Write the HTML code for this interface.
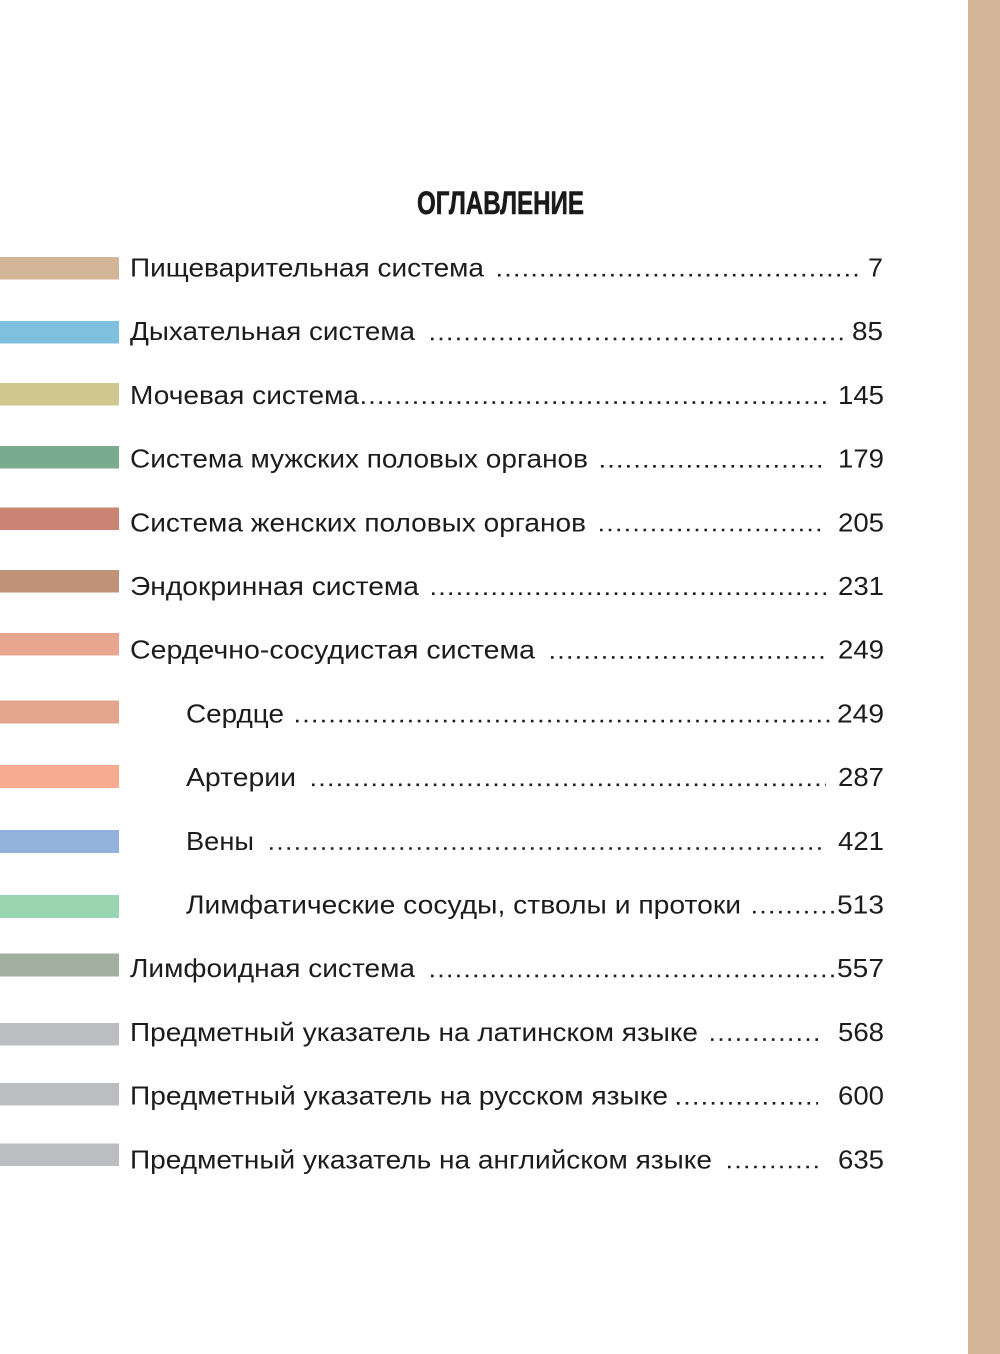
<!DOCTYPE html>
<html><head><meta charset="utf-8"><style>
html,body{margin:0;padding:0;background:#fff;}
svg{display:block;}
text{font-family:"Liberation Sans","DejaVu Sans",sans-serif;fill:#1c1c1c;font-size:26px;}
.t{font-family:"Liberation Sans Narrow","Liberation Sans",sans-serif;font-weight:bold;font-size:32px;fill:#1a1a1a;stroke:#1a1a1a;stroke-width:0.6px;}
</style></head><body>
<svg width="1000" height="1354" viewBox="0 0 1000 1354" xmlns="http://www.w3.org/2000/svg">
<rect x="0" y="0" width="1000" height="1354" fill="#fff"/>
<rect x="968" y="0" width="32" height="1354" fill="#d4b598"/>
<text class="t" x="417" y="214" textLength="167" lengthAdjust="spacingAndGlyphs">ОГЛАВЛЕНИЕ</text>

<g>
<rect x="0" y="257" width="119" height="22.5" fill="#d3b597"/>
<rect x="0" y="321" width="119" height="22.5" fill="#7ec0de"/>
<rect x="0" y="383" width="119" height="22.5" fill="#cfc78f"/>
<rect x="0" y="446" width="119" height="22.5" fill="#7aab8e"/>
<rect x="0" y="507.5" width="119" height="22.5" fill="#c98474"/>
<rect x="0" y="570" width="119" height="22.5" fill="#c09378"/>
<rect x="0" y="633" width="119" height="22.5" fill="#e8a58f"/>
<rect x="0" y="700.5" width="119" height="23" fill="#e4a48e"/>
<rect x="0" y="765" width="119" height="23" fill="#f9ab90"/>
<rect x="0" y="830" width="119" height="23" fill="#93b3de"/>
<rect x="0" y="895" width="119" height="23" fill="#99d5b1"/>
<rect x="0" y="953.5" width="119" height="23" fill="#a1b09f"/>
<rect x="0" y="1023" width="119" height="22.5" fill="#bcbdc1"/>
<rect x="0" y="1083" width="119" height="22.5" fill="#bcbdc1"/>
<rect x="0" y="1143.5" width="119" height="22.5" fill="#bcbdc1"/>
</g>

<g stroke="#1c1c1c" stroke-width="2.6" stroke-dasharray="2.6 6.1">
<line x1="498" y1="275.2" x2="858" y2="275.2"/>
<line x1="431" y1="338.9" x2="843" y2="338.9"/>
<line x1="362" y1="402.6" x2="826" y2="402.6"/>
<line x1="601" y1="466.3" x2="826" y2="466.3"/>
<line x1="600" y1="530" x2="826" y2="530"/>
<line x1="432" y1="593.7" x2="826" y2="593.7"/>
<line x1="551" y1="657.4" x2="826" y2="657.4"/>
<line x1="296" y1="721.1" x2="834" y2="721.1"/>
<line x1="312" y1="784.8" x2="826" y2="784.8"/>
<line x1="270" y1="848.5" x2="826" y2="848.5"/>
<line x1="753" y1="912.2" x2="834" y2="912.2"/>
<line x1="431" y1="975.9" x2="834" y2="975.9"/>
<line x1="711" y1="1039.6" x2="818" y2="1039.6"/>
<line x1="677" y1="1103.3" x2="818" y2="1103.3"/>
<line x1="728" y1="1167" x2="818" y2="1167"/>
</g>

<g>
<text x="130" y="276.5" textLength="354" lengthAdjust="spacingAndGlyphs">Пищеварительная система</text>
<text x="130" y="340.2" textLength="285" lengthAdjust="spacingAndGlyphs">Дыхательная система</text>
<text x="130" y="403.9" textLength="229" lengthAdjust="spacingAndGlyphs">Мочевая система</text>
<text x="130" y="467.6" textLength="458" lengthAdjust="spacingAndGlyphs">Система мужских половых органов</text>
<text x="130" y="531.3" textLength="456" lengthAdjust="spacingAndGlyphs">Система женских половых органов</text>
<text x="130" y="595" textLength="289" lengthAdjust="spacingAndGlyphs">Эндокринная система</text>
<text x="130" y="658.7" textLength="405" lengthAdjust="spacingAndGlyphs">Сердечно-сосудистая система</text>
<text x="186" y="722.4" textLength="98" lengthAdjust="spacingAndGlyphs">Сердце</text>
<text x="186" y="786.1" textLength="110" lengthAdjust="spacingAndGlyphs">Артерии</text>
<text x="186" y="849.8" textLength="68" lengthAdjust="spacingAndGlyphs">Вены</text>
<text x="186" y="913.5" textLength="555" lengthAdjust="spacingAndGlyphs">Лимфатические сосуды, стволы и протоки</text>
<text x="130" y="977.2" textLength="285" lengthAdjust="spacingAndGlyphs">Лимфоидная система</text>
<text x="130" y="1040.9" textLength="568" lengthAdjust="spacingAndGlyphs">Предметный указатель на латинском языке</text>
<text x="130" y="1104.6" textLength="538" lengthAdjust="spacingAndGlyphs">Предметный указатель на русском языке</text>
<text x="130" y="1168.3" textLength="582" lengthAdjust="spacingAndGlyphs">Предметный указатель на английском языке</text>
</g>

<g>
<text x="868" y="276.5" textLength="15" lengthAdjust="spacingAndGlyphs">7</text>
<text x="852" y="340.2" textLength="31" lengthAdjust="spacingAndGlyphs">85</text>
<text x="838" y="403.9" textLength="46" lengthAdjust="spacingAndGlyphs">145</text>
<text x="838" y="467.6" textLength="46" lengthAdjust="spacingAndGlyphs">179</text>
<text x="838" y="531.3" textLength="46" lengthAdjust="spacingAndGlyphs">205</text>
<text x="838" y="595" textLength="46" lengthAdjust="spacingAndGlyphs">231</text>
<text x="838" y="658.7" textLength="46" lengthAdjust="spacingAndGlyphs">249</text>
<text x="837" y="722.4" textLength="47" lengthAdjust="spacingAndGlyphs">249</text>
<text x="838" y="786.1" textLength="46" lengthAdjust="spacingAndGlyphs">287</text>
<text x="838" y="849.8" textLength="46" lengthAdjust="spacingAndGlyphs">421</text>
<text x="837" y="913.5" textLength="47" lengthAdjust="spacingAndGlyphs">513</text>
<text x="837" y="977.2" textLength="47" lengthAdjust="spacingAndGlyphs">557</text>
<text x="838" y="1040.9" textLength="46" lengthAdjust="spacingAndGlyphs">568</text>
<text x="838" y="1104.6" textLength="46" lengthAdjust="spacingAndGlyphs">600</text>
<text x="838" y="1168.3" textLength="46" lengthAdjust="spacingAndGlyphs">635</text>
</g>
</svg>
</body></html>
